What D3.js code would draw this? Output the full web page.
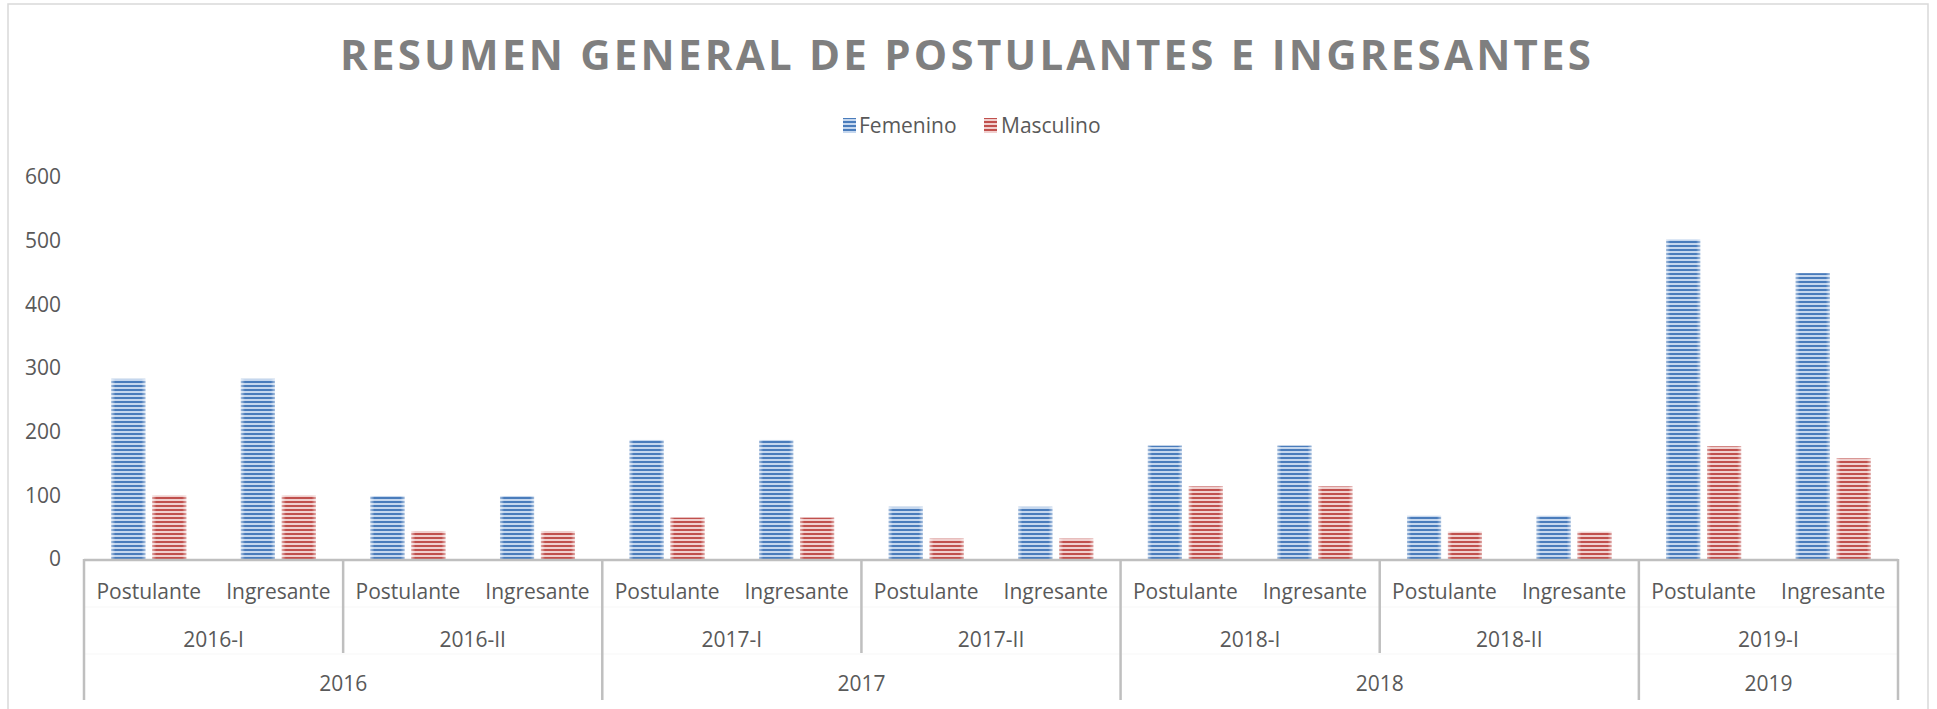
<!DOCTYPE html>
<html>
<head>
<meta charset="utf-8">
<script src="https://cdn.jsdelivr.net/npm/d3@7"></script>
<style>
  body { margin: 0; background: #fff; }
  svg { display: block; }
  text { font-family: "Open Sans", sans-serif; fill: #595959; }
</style>
</head>
<body>
<div id="chart"></div>
<script>

const subLabels  = ["Postulante", "Ingresante"];
const semesters  = ["2016-I", "2016-II", "2017-I", "2017-II", "2018-I", "2018-II", "2019-I"];
const years      = ["2016", "2017", "2018", "2019"];
const yearOfSem  = ["2016", "2016", "2017", "2017", "2018", "2018", "2019"];
const series     = ["Femenino", "Masculino"];
// one value per semester x sub label, in order
const femenino   = [283, 283, 99, 99, 187, 187, 82, 82, 178, 178, 68, 68, 502, 449];
const masculino  = [100, 100, 44, 44, 65, 65, 32, 32, 114, 114, 43, 43, 177, 158];
const yTicks     = [0, 100, 200, 300, 400, 500, 600];

const W = 1937, H = 709;
const margin = { left: 84, right: 39, top: 177, base: 559 };
const fs = "21px";

const svg = d3.select("#chart").append("svg")
  .attr("width", W).attr("height", H);

// patterns (narrow horizontal stripes) + edge glow
const defs = svg.append("defs");
const palette = {
  Femenino:  { dark: "#4a7cbb", light: "#c5d7ee" },
  Masculino: { dark: "#c0504d", light: "#f0cfce" }
};
series.forEach(s => {
  const p = defs.append("pattern")
    .attr("id", "pat-" + s)
    .attr("patternUnits", "userSpaceOnUse")
    .attr("width", 4).attr("height", 4)
    .attr("y", 1);
  p.append("rect").attr("width", 4).attr("height", 4).attr("fill", palette[s].light);
  p.append("rect").attr("width", 4).attr("height", 2).attr("fill", palette[s].dark);
});
const glow = defs.append("linearGradient").attr("id", "glow")
  .attr("x1", 0).attr("x2", 1).attr("y1", 0).attr("y2", 0);
[[0, 0.5], [0.12, 0], [0.88, 0], [1, 0.5]].forEach(([o, a]) =>
  glow.append("stop").attr("offset", o).attr("stop-color", "#fff").attr("stop-opacity", a));

// chart area border
svg.append("rect")
  .attr("x", 8).attr("y", 4)
  .attr("width", 1920).attr("height", H + 20)
  .attr("fill", "none").attr("stroke", "#d9d9d9").attr("stroke-width", 1.5);

// title
svg.append("text")
  .attr("x", 965.5).attr("y", 70)
  .attr("text-anchor", "middle")
  .attr("textLength", 1251).attr("lengthAdjust", "spacing")
  .style("font-size", "42px").style("font-weight", "bold")
  .style("fill", "#7f7f7f")
  .text("RESUMEN GENERAL DE POSTULANTES E INGRESANTES");

// legend
const legendPos = [{ x: 843, tx: 859 }, { x: 984, tx: 1001 }];
const legend = svg.append("g");
series.forEach((s, i) => {
  legend.append("rect")
    .attr("x", legendPos[i].x).attr("y", 118)
    .attr("width", 13).attr("height", 15)
    .attr("fill", `url(#pat-${s})`);
  legend.append("text")
    .attr("x", legendPos[i].tx).attr("y", 126)
    .attr("dy", "0.35em")
    .style("font-size", fs)
    .text(s);
});

// scales
const cats = [];
semesters.forEach(sem => subLabels.forEach(sub => cats.push(sem + "|" + sub)));

const x = d3.scaleBand()
  .domain(cats)
  .range([margin.left, W - margin.right]);

const xInner = d3.scaleBand()
  .domain(series)
  .range([0, x.bandwidth()])
  .paddingInner(0.2 / 1.2)
  .paddingOuter(0.8 / 1.2);

const y = d3.scaleLinear()
  .domain([0, 600])
  .range([margin.base, margin.top]);

// y axis labels (no line, no gridlines)
svg.append("g")
  .attr("transform", `translate(${margin.left},0)`)
  .call(d3.axisLeft(y).tickValues(yTicks).tickSize(0).tickPadding(23))
  .call(g => g.select(".domain").remove())
  .call(g => g.selectAll(".tick text")
    .style("font-size", fs)
    .style("font-family", "'Open Sans', sans-serif")
    .attr("fill", "#595959"));

// bars
const rows = cats.map((c, i) => ({ cat: c, Femenino: femenino[i], Masculino: masculino[i] }));
const gBars = svg.append("g");
rows.forEach(r => {
  series.forEach(s => {
    const bx = x(r.cat) + xInner(s);
    gBars.append("rect")
      .attr("x", bx).attr("y", y(r[s]))
      .attr("width", xInner.bandwidth())
      .attr("height", y(0) - y(r[s]))
      .attr("fill", `url(#pat-${s})`);
    gBars.append("rect")
      .attr("x", bx).attr("y", y(r[s]))
      .attr("width", xInner.bandwidth())
      .attr("height", y(0) - y(r[s]))
      .attr("fill", "url(#glow)");
  });
});

// multi-level category axis
const axisCol = "#bfbfbf";
const gAx = svg.append("g");
const row1 = 592, row2 = 640, row3 = 684, semBottom = 653, yearBottom = 700;

gAx.append("line")
  .attr("x1", x.range()[0]).attr("x2", x.range()[1])
  .attr("y1", y(0) + 1).attr("y2", y(0) + 1)
  .attr("stroke", axisCol).attr("stroke-width", 2.5);

// faint level separators
[607, 654].forEach(ly => gAx.append("line")
  .attr("x1", x.range()[0]).attr("x2", x.range()[1])
  .attr("y1", ly).attr("y2", ly)
  .attr("stroke", "#f7f7f7").attr("stroke-width", 1));

// sub labels
cats.forEach(c => {
  gAx.append("text")
    .attr("x", x(c) + x.bandwidth() / 2).attr("y", row1)
    .attr("dy", "0.35em").attr("text-anchor", "middle")
    .style("font-size", fs)
    .text(c.split("|")[1]);
});

// semester labels + dividers
semesters.forEach((sem, i) => {
  const x0 = x(sem + "|" + subLabels[0]);
  const x1 = x(sem + "|" + subLabels[subLabels.length - 1]) + x.bandwidth();
  gAx.append("text")
    .attr("x", (x0 + x1) / 2).attr("y", row2)
    .attr("dy", "0.35em").attr("text-anchor", "middle")
    .style("font-size", fs)
    .text(sem);
  const yearStart = i === 0 || yearOfSem[i - 1] !== yearOfSem[i];
  gAx.append("line")
    .attr("x1", x0).attr("x2", x0)
    .attr("y1", y(0)).attr("y2", yearStart ? yearBottom : semBottom)
    .attr("stroke", axisCol).attr("stroke-width", 2.5);
});
// right end
gAx.append("line")
  .attr("x1", x.range()[1]).attr("x2", x.range()[1])
  .attr("y1", y(0)).attr("y2", yearBottom)
  .attr("stroke", axisCol).attr("stroke-width", 2.5);

// year labels
years.forEach(yr => {
  const sems = semesters.filter((s, i) => yearOfSem[i] === yr);
  const x0 = x(sems[0] + "|" + subLabels[0]);
  const x1 = x(sems[sems.length - 1] + "|" + subLabels[subLabels.length - 1]) + x.bandwidth();
  gAx.append("text")
    .attr("x", (x0 + x1) / 2).attr("y", row3)
    .attr("dy", "0.35em").attr("text-anchor", "middle")
    .style("font-size", fs)
    .text(yr);
});

</script>
</body>
</html>
